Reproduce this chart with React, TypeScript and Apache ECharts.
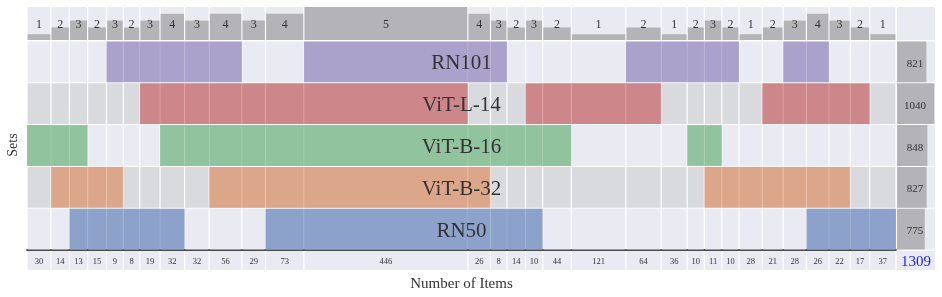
import React, { useEffect, useRef } from "react";
import * as echarts from "echarts";

// ---- data ----
const setNames = ["RN101", "ViT-L-14", "ViT-B-16", "ViT-B-32", "RN50"];
const setColors = ["#8172B3", "#C44E52", "#55A868", "#DD8452", "#4C72B0"];
const setTotals = [821, 1040, 848, 827, 775];
const counts = [30, 14, 13, 15, 9, 8, 19, 32, 32, 56, 29, 73, 446, 26, 8, 14, 10, 44, 121, 64, 36, 10, 11, 10, 28, 21, 28, 26, 22, 17, 37];
const degrees = [1, 2, 3, 2, 3, 2, 3, 4, 3, 4, 3, 4, 5, 4, 3, 2, 3, 2, 1, 2, 1, 2, 3, 2, 1, 2, 3, 4, 3, 2, 1];
// 1-based column indices that each set belongs to
const rn101Cols = [5, 6, 7, 8, 9, 10, 13, 14, 15, 20, 21, 22, 23, 24, 27, 28];
const vitL14Cols = [7, 8, 9, 10, 11, 12, 13, 17, 18, 19, 20, 26, 27, 28, 29, 30];
const vitB16Cols = [1, 2, 3, 8, 9, 10, 11, 12, 13, 14, 15, 16, 17, 18, 22, 23];
const vitB32Cols = [2, 3, 4, 5, 10, 11, 12, 13, 14, 23, 24, 25, 26, 27, 28, 29];
const rn50Cols = [3, 4, 5, 6, 7, 8, 12, 13, 14, 15, 16, 17, 28, 29, 30, 31];
const totalItems = 1309;

const membership = [rn101Cols, vitL14Cols, vitB16Cols, vitB32Cols, rn50Cols];

// ---- styles ----
const FONT = "'Liberation Serif', 'DejaVu Serif', serif";
const BG_LIGHT = "#eaeaf2";
const BG_DARK = "#d9dade";
const GRAY_BAR = "#b4b4b8";
const TEXT = "#333333";
const COL_PAD = 41; // column width = count + pad (in axis units)

// column extents in axis units
const colStarts: number[] = [];
const colEnds: number[] = [];
{
  let acc = 0;
  counts.forEach((c) => {
    colStarts.push(acc);
    acc += c + COL_PAD;
    colEnds.push(acc);
  });
}
const xMax = colEnds[colEnds.length - 1];

export default function App() {
  const ref = useRef<HTMLDivElement>(null);
  useEffect(() => {
    if (!ref.current) return;
    const chart = echarts.init(ref.current, null, { renderer: "svg" });

    const L = 27;
    const W = 869;
    const RX = 897;
    const RW = 38;

    const topData = counts.map((c, i) => [colStarts[i], colEnds[i], degrees[i]]);
    const matrixData: number[][] = [];
    membership.forEach((cols, r) => {
      counts.forEach((c, i) => {
        matrixData.push([colStarts[i], colEnds[i], r, cols.includes(i + 1) ? 1 : 0]);
      });
    });
    const countData = counts.map((c, i) => [colStarts[i], colEnds[i], c]);
    const totalData = setTotals.map((v, r) => [v, r]);
    const labelData = setNames.map((n, r) => [xMax / 2, r]);

    const option: any = {
      animation: false,
      grid: [
        { left: L, width: W, top: 7, height: 33 },
        { left: L, width: W, top: 41, height: 209 },
        { left: L, width: W, top: 251, height: 19 },
        { left: RX, width: RW, top: 41, height: 209 },
      ],
      xAxis: [
        { gridIndex: 0, type: "value", min: 0, max: xMax, show: false },
        {
          gridIndex: 1, type: "value", min: 0, max: xMax,
          axisLine: { show: true, onZero: false, lineStyle: { color: "#111", width: 1.6 } },
          axisTick: { show: false }, axisLabel: { show: false }, splitLine: { show: false },
        },
        { gridIndex: 2, type: "value", min: 0, max: xMax, show: false },
        { gridIndex: 3, type: "value", min: 0, max: 1060, show: false },
      ],
      yAxis: [
        { gridIndex: 0, type: "value", min: 0.15, max: 5, show: false },
        { gridIndex: 1, type: "category", data: setNames, inverse: true, show: false },
        { gridIndex: 2, type: "value", min: 0, max: 1, show: false },
        { gridIndex: 3, type: "category", data: setNames, inverse: true, show: false },
      ],
      series: [
        {
          type: "custom", xAxisIndex: 0, yAxisIndex: 0, data: topData,
          renderItem: (params: any, api: any) => {
            const s = api.value(0), e = api.value(1), d = api.value(2);
            const cs = params.coordSys;
            const pb = api.coord([s, 0.15]);
            const pt = api.coord([e, d]);
            const x0 = pb[0], x1 = pt[0];
            return {
              type: "group",
              children: [
                { type: "rect", shape: { x: x0 + 0.6, y: cs.y, width: x1 - x0 - 1.2, height: cs.height }, style: { fill: BG_LIGHT } },
                { type: "rect", shape: { x: x0 + 0.6, y: pt[1], width: x1 - x0 - 1.2, height: pb[1] - pt[1] }, style: { fill: GRAY_BAR } },
                {
                  type: "text",
                  style: {
                    text: String(d), x: (x0 + x1) / 2, y: cs.y + cs.height / 2 + 0.5,
                    align: "center", verticalAlign: "middle", fontFamily: FONT, fontSize: 12, fill: TEXT,
                  },
                },
              ],
            };
          },
        },
        {
          type: "custom", xAxisIndex: 1, yAxisIndex: 1, data: matrixData,
          renderItem: (params: any, api: any) => {
            const s = api.value(0), e = api.value(1), r = api.value(2), m = api.value(3);
            const p0 = api.coord([s, r]);
            const p1 = api.coord([e, r]);
            const h = api.size([0, 1])[1];
            const y0 = p0[1] - h / 2;
            const children: any[] = [
              { type: "rect", shape: { x: p0[0] + 0.6, y: y0 + 0.5, width: p1[0] - p0[0] - 1.2, height: h - 1 }, style: { fill: r % 2 === 1 ? BG_DARK : BG_LIGHT } },
            ];
            if (m) {
              children.push({
                type: "rect", shape: { x: p0[0], y: y0 + 0.5, width: p1[0] - p0[0], height: h - 1 },
                style: { fill: setColors[r], opacity: 0.6 },
              });
            }
            return { type: "group", children };
          },
        },
        {
          type: "custom", xAxisIndex: 1, yAxisIndex: 1, data: labelData, z: 5,
          renderItem: (params: any, api: any) => {
            const p = api.coord([api.value(0), api.value(1)]);
            return {
              type: "text",
              style: {
                text: setNames[params.dataIndex], x: p[0], y: p[1] + 0.5,
                align: "center", verticalAlign: "middle", fontFamily: FONT, fontSize: 21, fill: TEXT,
              },
            };
          },
        },
        {
          type: "custom", xAxisIndex: 2, yAxisIndex: 2, data: countData,
          renderItem: (params: any, api: any) => {
            const s = api.value(0), e = api.value(1), c = api.value(2);
            const cs = params.coordSys;
            const x0 = api.coord([s, 0])[0], x1 = api.coord([e, 0])[0];
            return {
              type: "group",
              children: [
                { type: "rect", shape: { x: x0 + 0.6, y: cs.y, width: x1 - x0 - 1.2, height: cs.height }, style: { fill: BG_LIGHT } },
                {
                  type: "text",
                  style: {
                    text: String(c), x: (x0 + x1) / 2, y: cs.y + cs.height / 2,
                    align: "center", verticalAlign: "middle", fontFamily: FONT, fontSize: 8.5, fill: TEXT,
                  },
                },
              ],
            };
          },
        },
        {
          type: "custom", xAxisIndex: 3, yAxisIndex: 3, data: totalData,
          renderItem: (params: any, api: any) => {
            const v = api.value(0), r = api.value(1);
            const cs = params.coordSys;
            const p0 = api.coord([0, r]);
            const p1 = api.coord([v, r]);
            const h = api.size([0, 1])[1];
            const y0 = p0[1] - h / 2;
            return {
              type: "group",
              children: [
                { type: "rect", shape: { x: cs.x, y: y0 + 0.5, width: cs.width, height: h - 1 }, style: { fill: BG_LIGHT } },
                { type: "rect", shape: { x: p0[0], y: y0 + 0.5, width: p1[0] - p0[0], height: h - 1 }, style: { fill: GRAY_BAR } },
                {
                  type: "text",
                  style: {
                    text: String(v), x: cs.x + cs.width / 2 - 1, y: p0[1] + 1,
                    align: "center", verticalAlign: "middle", fontFamily: FONT, fontSize: 11, fill: TEXT,
                  },
                },
              ],
            };
          },
        },
      ],
      graphic: [
        { type: "rect", left: RX, top: 7, shape: { x: 0, y: 0, width: RW, height: 33 }, style: { fill: BG_LIGHT } },
        { type: "rect", left: RX, top: 251, shape: { x: 0, y: 0, width: RW, height: 19 }, style: { fill: BG_LIGHT } },
        {
          type: "text", x: RX + RW / 2, y: 261,
          style: { text: String(totalItems), align: "center", verticalAlign: "middle", fontFamily: FONT, fontSize: 15, fill: "#1a1aff" },
        },
        {
          type: "text", x: 12, y: 145, rotation: Math.PI / 2,
          style: { text: "Sets", align: "center", verticalAlign: "middle", fontFamily: FONT, fontSize: 14, fill: TEXT },
        },
        {
          type: "text", x: L + W / 2, y: 283,
          style: { text: "Number of Items", align: "center", verticalAlign: "middle", fontFamily: FONT, fontSize: 15, fill: TEXT },
        },
      ],
    };
    chart.setOption(option);
    return () => chart.dispose();
  }, []);
  return <div ref={ref} style={{ position: "fixed", left: 0, top: 0, width: 942, height: 297 }} />;
}
